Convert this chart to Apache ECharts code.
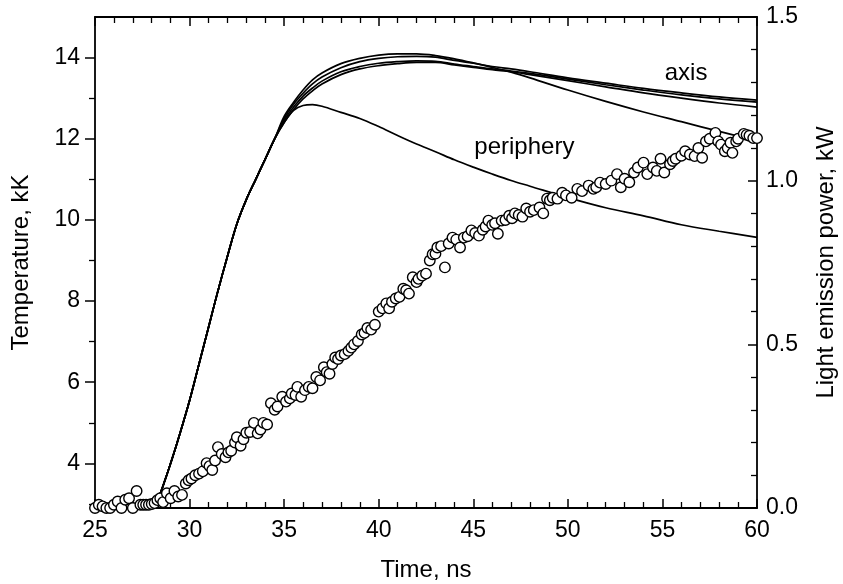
<!DOCTYPE html>
<html>
<head>
<meta charset="utf-8">
<script src="https://cdn.jsdelivr.net/npm/echarts@6/dist/echarts.min.js"></script>
<style>
  html, body { margin: 0; padding: 0; background: #fff; }
  #chart { width: 843px; height: 584px; }
</style>
</head>
<body>
<div id="chart"></div>
<script>
// temperature curves (kK) on a shared time grid (ns)
var tempTime = [28.2, 28.6, 29, 29.5, 30, 30.5, 31, 31.5, 32, 32.5, 33, 33.5, 34, 34.5,
  35, 35.5, 36, 36.5, 37, 38, 39, 40, 41, 42, 43, 44, 45, 46, 47, 48, 50, 52, 54, 56, 58, 60];
var rise = [2.95, 3.45, 4.0, 4.75, 5.55, 6.45, 7.35, 8.25, 9.1, 9.9, 10.5, 11.0, 11.5, 12.0];
var curveA = rise.concat([12.55, 12.9, 13.2, 13.45, 13.62, 13.85, 13.98, 14.06, 14.09, 14.09, 14.05,
  13.97, 13.87, 13.76, 13.64, 13.5, 13.2, 12.92, 12.66, 12.42, 12.18, 11.95]);
var curveB = rise.concat([12.5, 12.85, 13.12, 13.35, 13.52, 13.75, 13.9, 13.98, 14.02, 14.03, 14.01,
  13.93, 13.86, 13.78, 13.72, 13.65, 13.5, 13.37, 13.24, 13.13, 13.03, 12.95]);
var curveC = rise.concat([12.45, 12.78, 13.05, 13.25, 13.42, 13.65, 13.78, 13.86, 13.9, 13.92, 13.91,
  13.84, 13.78, 13.72, 13.67, 13.61, 13.47, 13.33, 13.2, 13.08, 12.98, 12.9]);
var curveD = rise.concat([12.4, 12.72, 12.98, 13.18, 13.35, 13.58, 13.72, 13.8, 13.85, 13.88, 13.88,
  13.82, 13.76, 13.7, 13.65, 13.58, 13.43, 13.28, 13.13, 13.0, 12.88, 12.78]);
var periphery = rise.concat([12.4, 12.7, 12.82, 12.84, 12.8, 12.65, 12.5, 12.3, 12.08, 11.87, 11.68,
  11.48, 11.3, 11.13, 10.97, 10.83, 10.55, 10.3, 10.1, 9.88, 9.72, 9.57]);

// light emission power (kW), measured points
var powerTime = [25.0, 25.2, 25.4, 25.6, 25.8, 26.0, 26.2, 26.4, 26.6, 26.8, 27.0, 27.2, 27.4, 27.55,
  27.7, 27.85, 28.0, 28.15, 28.3, 28.45, 28.6, 28.8, 29.0, 29.2, 29.4, 29.6, 29.8, 29.95, 30.1, 30.3,
  30.5, 30.7, 30.9, 31.05, 31.2, 31.35, 31.5, 31.7, 31.9, 32.05, 32.2, 32.4, 32.5, 32.7, 32.85, 33.0,
  33.2, 33.4, 33.6, 33.75, 33.9, 34.1, 34.3, 34.5, 34.65, 34.9, 35.1, 35.3, 35.4, 35.6, 35.7, 35.9,
  36.1, 36.3, 36.5, 36.7, 36.9, 37.1, 37.25, 37.4, 37.55, 37.7, 37.85, 38.0, 38.2, 38.4, 38.55, 38.7,
  38.9, 39.1, 39.25, 39.4, 39.6, 39.8, 40.0, 40.2, 40.4, 40.55, 40.7, 40.9, 41.1, 41.3, 41.45, 41.6,
  41.8, 42.0, 42.1, 42.3, 42.5, 42.7, 42.85, 43.0, 43.1, 43.3, 43.5, 43.7, 43.9, 44.1, 44.3, 44.5,
  44.7, 44.9, 45.1, 45.3, 45.5, 45.65, 45.8, 46.0, 46.15, 46.3, 46.5, 46.7, 46.9, 47.05, 47.2, 47.4,
  47.6, 47.8, 48.0, 48.2, 48.5, 48.7, 48.9, 49.05, 49.2, 49.45, 49.7, 49.9, 50.2, 50.5, 50.75, 51.1,
  51.35, 51.5, 51.7, 52.0, 52.3, 52.6, 52.8, 53.0, 53.25, 53.5, 53.7, 54.0, 54.2, 54.5, 54.7, 54.9,
  55.1, 55.4, 55.55, 55.7, 56.0, 56.2, 56.45, 56.7, 56.9, 57.1, 57.3, 57.5, 57.8, 57.95, 58.1, 58.3,
  58.45, 58.6, 58.7, 58.9, 59.0, 59.3, 59.45, 59.6, 59.8, 60.0];
var powerVal = [0.0, 0.01, 0.005, 0.0, 0.0, 0.01, 0.02, 0.0, 0.025, 0.03, 0.0, 0.052, 0.01, 0.01,
  0.01, 0.01, 0.012, 0.015, 0.024, 0.03, 0.018, 0.045, 0.03, 0.052, 0.035, 0.04, 0.075, 0.085, 0.09, 0.1,
  0.105, 0.112, 0.137, 0.128, 0.116, 0.145, 0.186, 0.165, 0.155, 0.17, 0.175, 0.2, 0.216, 0.19, 0.21, 0.23,
  0.232, 0.26, 0.228, 0.24, 0.26, 0.255, 0.32, 0.3, 0.31, 0.34, 0.325, 0.335, 0.35, 0.345, 0.37, 0.34,
  0.36, 0.37, 0.366, 0.4, 0.39, 0.43, 0.415, 0.41, 0.44, 0.46, 0.455, 0.466, 0.47, 0.48, 0.49, 0.5,
  0.51, 0.53, 0.535, 0.55, 0.545, 0.56, 0.6, 0.61, 0.625, 0.61, 0.63, 0.64, 0.645, 0.67, 0.665, 0.655,
  0.705, 0.69, 0.7, 0.71, 0.716, 0.756, 0.775, 0.777, 0.796, 0.8, 0.735, 0.808, 0.826, 0.82, 0.796, 0.826,
  0.83, 0.848, 0.84, 0.832, 0.85, 0.86, 0.878, 0.865, 0.87, 0.838, 0.878, 0.88, 0.893, 0.885, 0.9, 0.895,
  0.89, 0.915, 0.905, 0.91, 0.918, 0.9, 0.945, 0.94, 0.948, 0.945, 0.963, 0.955, 0.948, 0.975, 0.968, 0.985,
  0.975, 0.98, 0.994, 0.99, 1.0, 1.02, 0.98, 1.006, 0.995, 1.025, 1.04, 1.055, 1.02, 1.04, 1.03, 1.067,
  1.025, 1.05, 1.06, 1.067, 1.076, 1.09, 1.08, 1.075, 1.1, 1.07, 1.12, 1.128, 1.146, 1.12, 1.11, 1.09,
  1.1, 1.116, 1.085, 1.12, 1.128, 1.143, 1.14, 1.137, 1.13, 1.13];

var tempMajor = [4, 6, 8, 10, 12, 14];
var tempMinor = [3, 5, 7, 9, 11, 13];

function pairs(xs, ys) {
  return xs.map(function (x, i) { return [x, ys[i]]; });
}

var font = 'Liberation Sans, Arial, Helvetica, sans-serif';
var black = '#000';
var tickSize = 23;
var titleSize = 24;

function tempLine(data, extra) {
  var s = {
    type: 'line',
    xAxisIndex: 0,
    yAxisIndex: 0,
    data: pairs(tempTime, data),
    showSymbol: false,
    smooth: 0.35,
    lineStyle: { color: black, width: 1.7 },
    z: 3
  };
  if (extra) s.markPoint = extra;
  return s;
}

function textMark(label, t, T) {
  return {
    symbol: 'circle',
    symbolSize: 0,
    silent: true,
    label: { show: true, position: 'inside', formatter: label, color: black, fontSize: titleSize, fontFamily: font },
    data: [{ coord: [t, T] }]
  };
}

var chart = echarts.init(document.getElementById('chart'));
var options = {
  animation: false,
  backgroundColor: '#fff',
  grid: { left: 95, right: 86, top: 17, bottom: 76, outerBoundsMode: 'none', containLabel: false },
  xAxis: [
    {
      type: 'value', position: 'bottom', min: 25, max: 60, interval: 5,
      name: 'Time, ns', nameLocation: 'middle', nameGap: 50,
      nameTextStyle: { color: black, fontSize: titleSize, fontFamily: font },
      axisLine: { lineStyle: { color: black, width: 1.8 } },
      axisTick: { inside: true, length: 9, lineStyle: { color: black, width: 1.5 } },
      minorTick: { show: true, splitNumber: 5, length: 6, lineStyle: { color: black, width: 1.3 } },
      axisLabel: { color: black, fontSize: tickSize, fontFamily: font, margin: 11 },
      splitLine: { show: false }
    },
    {
      type: 'value', position: 'top', min: 25, max: 60, interval: 5,
      axisLine: { lineStyle: { color: black, width: 1.8 } },
      axisTick: { inside: true, length: 9, lineStyle: { color: black, width: 1.5 } },
      minorTick: { show: true, splitNumber: 5, length: 6, lineStyle: { color: black, width: 1.3 } },
      axisLabel: { show: false },
      splitLine: { show: false }
    }
  ],
  yAxis: [
    {
      type: 'value', position: 'left', min: 2.9, max: 15,
      name: 'Temperature, kK', nameLocation: 'middle', nameGap: 62, nameRotate: 90,
      nameTextStyle: { color: black, fontSize: titleSize, fontFamily: font },
      axisLine: { show: true, lineStyle: { color: black, width: 1.8 } },
      axisTick: { show: true, length: 10, customValues: tempMajor, lineStyle: { color: black, width: 1.5 } },
      axisLabel: { color: black, fontSize: tickSize, fontFamily: font, margin: 15, customValues: tempMajor },
      splitLine: { show: false }
    },
    {
      type: 'value', position: 'left', min: 2.9, max: 15,
      axisLine: { show: false },
      axisTick: { show: true, length: 6, customValues: tempMinor, lineStyle: { color: black, width: 1.3 } },
      axisLabel: { show: false, customValues: tempMinor },
      splitLine: { show: false }
    },
    {
      type: 'value', position: 'right', min: 0, max: 1.5, interval: 0.5,
      name: 'Light emission power, kW', nameLocation: 'middle', nameGap: 57, nameRotate: 90,
      nameTextStyle: { color: black, fontSize: titleSize, fontFamily: font },
      axisLine: { show: true, lineStyle: { color: black, width: 1.8 } },
      axisTick: { inside: true, length: 9, lineStyle: { color: black, width: 1.5 } },
      minorTick: { show: true, splitNumber: 5, length: 6, lineStyle: { color: black, width: 1.3 } },
      axisLabel: { color: black, fontSize: tickSize, fontFamily: font, margin: 9,
        formatter: function (v) { return v.toFixed(1); } },
      splitLine: { show: false }
    }
  ],
  series: [
    tempLine(curveA, textMark('axis', 56.25, 13.62)),
    tempLine(curveB),
    tempLine(curveC),
    tempLine(curveD),
    tempLine(periphery, textMark('periphery', 47.7, 11.78)),
    {
      type: 'scatter',
      xAxisIndex: 0,
      yAxisIndex: 2,
      data: pairs(powerTime, powerVal),
      symbol: 'circle',
      symbolSize: 10.5,
      clip: false,
      itemStyle: { color: '#fff', borderColor: black, borderWidth: 1.4, opacity: 1 },
      z: 5
    }
  ]
};
chart.setOption(options);
</script>
</body>
</html>
